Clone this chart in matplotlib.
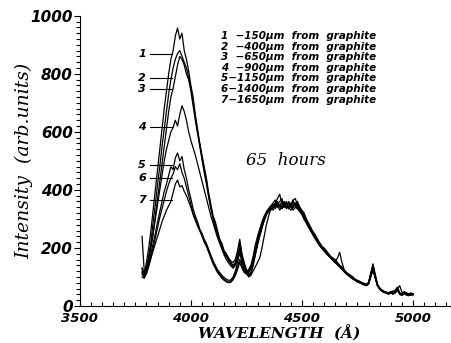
import numpy as np
import matplotlib
matplotlib.use("Agg")
import matplotlib.pyplot as plt
from matplotlib.ticker import MultipleLocator

# wavelength grid (Angstrom), 3780..5000 every 10
wavelength = np.arange(3780, 5001, 10)

curve1 = [130, 110, 150, 200, 260, 330, 400, 470, 540, 610, 680, 740, 800, 850, 880, 930, 958, 920,
          940, 880, 850, 810, 760, 720, 660, 610, 560, 520, 480, 440, 390, 350, 310, 290, 260, 230, 215, 190,
          180, 165, 155, 150, 160, 190, 230, 180, 150, 125, 110, 115, 150, 190, 220, 250, 275, 300, 320, 335,
          345, 340, 355, 370, 385, 350, 360, 345, 355, 340, 365, 370, 350, 340, 330, 320,
          300, 285, 270, 255, 245, 230, 215, 205, 200, 190, 180, 170, 165, 160, 150, 140, 135, 120, 115, 110,
          105, 100, 90, 88, 85, 80, 78, 75, 80, 110, 140, 110, 75, 62, 55, 50, 48, 45, 50, 45,
          55, 65, 45, 40, 50, 45, 40, 45, 42]
curve2 = [240, 120, 130, 170, 220, 290, 350, 420, 480, 550, 610, 670, 730, 780, 820, 850, 870, 880,
          860, 840, 820, 790, 750, 700, 650, 600, 560, 510, 470, 430, 380, 340, 305, 280, 250, 225, 205, 185,
          175, 160, 150, 140, 150, 175, 215, 170, 140, 120, 105, 110, 140, 180, 215, 245, 270, 295, 315, 330,
          340, 350, 340, 360, 345, 360, 340, 355, 335, 350, 340, 355, 345, 335, 325, 310,
          295, 280, 265, 250, 240, 225, 212, 200, 195, 185, 175, 168, 160, 155, 145, 138, 130, 122, 112, 108,
          100, 95, 92, 85, 82, 78, 75, 72, 78, 105, 130, 100, 72, 60, 52, 48, 45, 42, 48, 42,
          50, 58, 42, 38, 45, 40, 38, 42, 40]
curve3 = [110, 100, 120, 160, 200, 250, 310, 370, 430, 490, 550, 610, 670, 720, 750, 790, 830, 860,
          850, 830, 800, 780, 740, 690, 640, 595, 550, 505, 460, 420, 375, 335, 300, 270, 245, 220, 200, 180,
          170, 155, 145, 135, 145, 170, 200, 160, 135, 115, 100, 105, 120, 135, 150, 165, 200, 240, 280, 310,
          335, 345, 355, 340, 350, 335, 350, 340, 360, 345, 355, 345, 360, 340, 320, 305,
          290, 278, 262, 248, 235, 222, 210, 198, 192, 182, 172, 165, 158, 150, 142, 135, 128, 118, 110, 105,
          98, 92, 88, 82, 80, 76, 72, 70, 75, 100, 125, 95, 70, 58, 50, 46, 44, 40, 45, 40,
          48, 55, 40, 36, 42, 38, 35, 40, 38]
curve4 = [120, 105, 130, 165, 205, 250, 300, 350, 400, 450, 500, 540, 570, 600, 615, 640, 620, 660,
          690, 670, 640, 600, 570, 545, 520, 490, 460, 430, 400, 370, 340, 310, 285, 260, 235, 215, 195, 175,
          160, 148, 138, 130, 140, 160, 190, 155, 130, 112, 102, 110, 140, 175, 210, 240, 268, 295, 315, 330,
          340, 330, 345, 355, 340, 345, 355, 335, 345, 355, 340, 350, 340, 330, 318, 300,
          288, 272, 260, 245, 232, 220, 208, 200, 190, 182, 175, 166, 158, 152, 145, 136, 128, 120, 114, 106,
          100, 96, 90, 86, 80, 78, 74, 70, 76, 102, 128, 98, 70, 58, 52, 48, 44, 42, 46, 50,
          44, 52, 45, 40, 44, 38, 42, 36, 40]
curve5 = [100, 95, 115, 145, 180, 215, 250, 290, 325, 360, 395, 420, 450, 480, 470, 510, 527, 500,
          515, 470, 440, 400, 370, 335, 310, 290, 265, 250, 230, 215, 195, 175, 155, 140, 125, 115, 105, 98,
          92, 88, 90, 100, 120, 150, 185, 150, 130, 120, 125, 140, 170, 210, 240, 265, 290, 310, 325, 335,
          345, 355, 365, 350, 360, 370, 345, 355, 340, 350, 365, 345, 335, 340, 325, 310,
          295, 282, 268, 255, 242, 230, 218, 205, 196, 188, 178, 170, 162, 155, 165, 185, 150, 125, 116, 108,
          102, 96, 92, 88, 84, 80, 76, 73, 82, 115, 145, 105, 72, 60, 55, 50, 46, 44, 48, 52,
          46, 58, 70, 48, 42, 46, 40, 44, 41]
curve6 = [115, 100, 110, 135, 165, 200, 235, 270, 305, 335, 365, 395, 420, 440, 455, 480, 470, 490,
          460, 440, 410, 380, 350, 320, 300, 280, 260, 245, 225, 210, 190, 170, 150, 135, 120, 110, 100, 92,
          86, 82, 85, 95, 110, 135, 160, 140, 120, 115, 120, 135, 160, 195, 230, 260, 285, 305, 320, 330,
          335, 345, 335, 350, 345, 335, 350, 360, 340, 330, 345, 355, 345, 330, 320, 305,
          292, 278, 265, 250, 238, 226, 214, 203, 194, 186, 176, 168, 160, 152, 146, 138, 130, 121, 114, 107,
          101, 95, 90, 86, 82, 79, 75, 72, 79, 108, 135, 102, 74, 61, 54, 49, 47, 44, 49, 44,
          52, 60, 44, 39, 47, 42, 39, 43, 40]
curve7 = [130, 110, 120, 140, 165, 190, 215, 240, 265, 290, 310, 330, 345, 360, 390, 420, 434, 410,
          415, 395, 380, 360, 340, 315, 295, 275, 260, 240, 220, 205, 185, 165, 145, 130, 115, 105, 95, 88,
          83, 80, 82, 90, 105, 125, 150, 130, 115, 110, 115, 128, 150, 180, 215, 245, 275, 300, 315, 325,
          330, 340, 350, 345, 330, 345, 340, 350, 335, 345, 330, 340, 335, 325, 315, 298,
          285, 270, 258, 244, 232, 219, 207, 198, 189, 180, 172, 164, 156, 149, 142, 134, 126, 118, 111, 104,
          98, 93, 88, 84, 80, 77, 74, 71, 77, 104, 126, 97, 71, 59, 53, 48, 45, 43, 47, 43,
          50, 56, 43, 38, 44, 40, 37, 41, 39]

curves = [curve1, curve2, curve3, curve4, curve5, curve6, curve7]
curve_labels = ["1", "2", "3", "4", "5", "6", "7"]
label_levels = [870, 785, 748, 615, 485, 440, 365]
legend_lines = ["1  \u2212150\u03bcm  from  graphite",
                "2  \u2212400\u03bcm  from  graphite",
                "3  \u2212650\u03bcm  from  graphite",
                "4  \u2212900\u03bcm  from  graphite",
                "5\u22121150\u03bcm  from  graphite",
                "6\u22121400\u03bcm  from  graphite",
                "7\u22121650\u03bcm  from  graphite"]

fig = plt.figure(figsize=(4.51, 3.43), dpi=100)
ax = fig.add_axes([0.177, 0.108, 0.82, 0.846])

for c in curves:
    ax.plot(wavelength, c, color="black", lw=0.9)

ax.set_xlim(3500, 5165)
ax.set_ylim(0, 1000)
ax.spines["top"].set_visible(False)
ax.spines["right"].set_visible(False)
ax.xaxis.set_major_locator(MultipleLocator(500))
ax.xaxis.set_minor_locator(MultipleLocator(50))
ax.yaxis.set_major_locator(MultipleLocator(200))
ax.yaxis.set_minor_locator(MultipleLocator(20))
ax.tick_params(axis="x", which="both", direction="in", length=3, width=0.8, pad=4)
ax.tick_params(axis="y", which="both", direction="out", length=3, width=0.8, pad=1)
ax.tick_params(axis="x", which="major", length=4)
ax.tick_params(axis="y", which="major", length=4)
for lab in ax.get_xticklabels():
    lab.set_fontweight("bold")
    lab.set_fontstyle("italic")
    lab.set_fontsize(9.5)
for lab in ax.get_yticklabels():
    lab.set_fontweight("bold")
    lab.set_fontstyle("italic")
    lab.set_fontsize(11)

ax.set_xlabel("WAVELENGTH  (\u00c5)", fontsize=11, fontweight="bold", fontstyle="italic",
              family="DejaVu Serif")
ax.xaxis.set_label_coords(0.54, -0.066)
ax.set_ylabel("Intensity  (arb.units)", fontsize=13.5, fontstyle="italic",
              family="DejaVu Serif")
ax.yaxis.set_label_coords(-0.125, 0.5)

# curve numbers with leader lines
for lab, lev in zip(curve_labels, label_levels):
    ax.plot([3815, 3915], [lev, lev], color="black", lw=0.8)
    ax.text(3798, lev, lab, fontsize=8, fontweight="bold", fontstyle="italic",
            ha="right", va="center")

ax.text(4135, 948, "\n".join(legend_lines), fontsize=7.5, fontweight="bold",
        fontstyle="italic", ha="left", va="top", linespacing=1.08)
ax.text(4250, 500, "65  hours", fontsize=12, fontstyle="italic",
        family="DejaVu Serif", ha="left", va="center")

fig.savefig("out.png", dpi=100)
